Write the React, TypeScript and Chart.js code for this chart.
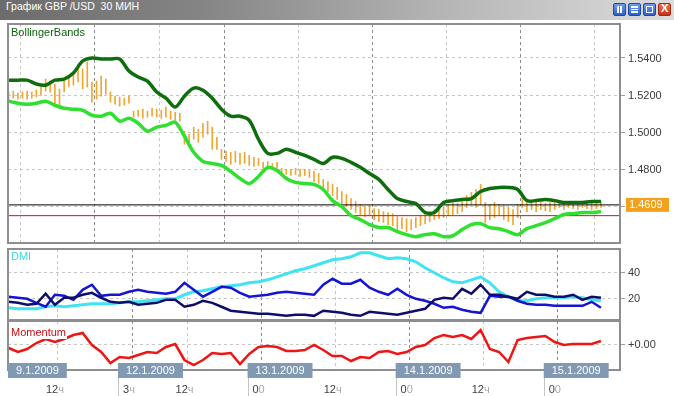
import React, { useEffect, useRef } from 'react';
import { Chart, registerables } from 'chart.js';

Chart.register(...registerables);

const FONT = 'Tahoma, "Liberation Sans", Arial, sans-serif';
const W = 674;

// time axis: hours since 9.1.2009 12:00 (weekend gap removed)
const X_MIN = -8.1;
const X_MAX = 91.09;
const GRID_HOURS = [0, 12, 21, 33, 45, 57, 69, 81];
const DAY_START_HOURS = [12, 33, 57, 81];
const TIME_MAIN = ['12', '3', '12', '0', '12', '0', '12', '0'];
const TIME_SUFFIX = ['ч', 'ч', 'ч', '0', 'ч', '0', 'ч', '0'];
const DATE_HOURS = [X_MIN, 12, 33, 57, 81];
const DATE_LABELS = ['9.1.2009', '12.1.2009', '13.1.2009', '14.1.2009', '15.1.2009'];

// price bars (high/low), one every 45 minutes starting at hour -8
const BAR_START = -8;
const BAR_STEP = 0.75;
const BAR_LOW = [
  1.5178, 1.5183, 1.5178, 1.5183, 1.5178, 1.5183, 1.5189, 1.5199, 1.5221, 1.5216,
  1.5151, 1.5140, 1.5216, 1.5243, 1.5253, 1.5270, 1.5232, 1.5243, 1.5162, 1.5178,
  1.5194, 1.5205, 1.5162, 1.5151, 1.5140, 1.5145, 1.5156, 1.5081, 1.5086, 1.5075,
  1.5081, 1.5086, 1.5081, 1.5075, 1.5081, 1.5070, 1.5064, 1.5059, 1.4935, 1.4924,
  1.4962, 1.4946, 1.4973, 1.4989, 1.4908, 1.4908, 1.4854, 1.4843, 1.4827, 1.4838,
  1.4827, 1.4832, 1.4821, 1.4816, 1.4821, 1.4805, 1.4811, 1.4800, 1.4805, 1.4767,
  1.4773, 1.4767, 1.4773, 1.4762, 1.4767, 1.4757, 1.4735, 1.4724, 1.4692, 1.4681,
  1.4659, 1.4638, 1.4611, 1.4600, 1.4584, 1.4568, 1.4557, 1.4546, 1.4551, 1.4530,
  1.4519, 1.4514, 1.4503, 1.4497, 1.4476, 1.4481, 1.4465, 1.4476, 1.4487, 1.4497,
  1.4508, 1.4519, 1.4530, 1.4535, 1.4541, 1.4551, 1.4557, 1.4562, 1.4573, 1.4595,
  1.4611, 1.4595, 1.4611, 1.4514, 1.4530, 1.4541, 1.4557, 1.4530, 1.4519, 1.4503,
  1.4541, 1.4595, 1.4573, 1.4584, 1.4573, 1.4584, 1.4578, 1.4573, 1.4584, 1.4595,
  1.4584, 1.4595, 1.4589, 1.4584, 1.4595, 1.4589, 1.4584, 1.4589, 1.4595,
];
const BAR_HIGH = [
  1.5216, 1.5221, 1.5210, 1.5216, 1.5221, 1.5216, 1.5226, 1.5243, 1.5286, 1.5270,
  1.5259, 1.5232, 1.5275, 1.5302, 1.5313, 1.5367, 1.5340, 1.5378, 1.5270, 1.5275,
  1.5302, 1.5286, 1.5216, 1.5194, 1.5189, 1.5183, 1.5194, 1.5113, 1.5118, 1.5124,
  1.5113, 1.5129, 1.5124, 1.5118, 1.5135, 1.5113, 1.5108, 1.5102, 1.5005, 1.4989,
  1.5027, 1.5016, 1.5048, 1.5059, 1.5027, 1.4973, 1.4908, 1.4897, 1.4892, 1.4897,
  1.4886, 1.4892, 1.4875, 1.4865, 1.4859, 1.4838, 1.4843, 1.4832, 1.4838, 1.4805,
  1.4800, 1.4800, 1.4805, 1.4800, 1.4800, 1.4794, 1.4789, 1.4778, 1.4746, 1.4735,
  1.4719, 1.4703, 1.4681, 1.4665, 1.4643, 1.4627, 1.4611, 1.4600, 1.4605, 1.4589,
  1.4584, 1.4573, 1.4568, 1.4562, 1.4546, 1.4541, 1.4535, 1.4530, 1.4541, 1.4551,
  1.4562, 1.4573, 1.4584, 1.4595, 1.4600, 1.4611, 1.4622, 1.4616, 1.4627, 1.4659,
  1.4676, 1.4692, 1.4719, 1.4622, 1.4611, 1.4622, 1.4611, 1.4605, 1.4595, 1.4584,
  1.4611, 1.4654, 1.4638, 1.4622, 1.4627, 1.4622, 1.4616, 1.4622, 1.4622, 1.4627,
  1.4627, 1.4622, 1.4627, 1.4622, 1.4627, 1.4622, 1.4627, 1.4622, 1.4627,
];

// indicators, one value every 1.5 hours starting at hour -8
const IND_START = -8;
const IND_STEP = 1.5;
const BB_UPPER = [
  1.5280, 1.5280, 1.5280, 1.5259, 1.5253, 1.5280, 1.5286, 1.5318, 1.5383, 1.5399,
  1.5394, 1.5394, 1.5394, 1.5329, 1.5297, 1.5275, 1.5216, 1.5183, 1.5135, 1.5194,
  1.5237, 1.5226, 1.5183, 1.5124, 1.5086, 1.5086, 1.5064, 1.4962, 1.4886, 1.4886,
  1.4908, 1.4892, 1.4875, 1.4854, 1.4832, 1.4865, 1.4859, 1.4838, 1.4811, 1.4778,
  1.4746, 1.4692, 1.4643, 1.4627, 1.4616, 1.4568, 1.4568, 1.4622, 1.4632, 1.4638,
  1.4643, 1.4681, 1.4697, 1.4703, 1.4703, 1.4692, 1.4632, 1.4632, 1.4638, 1.4632,
  1.4622, 1.4622, 1.4622, 1.4627, 1.4627,
];
const BB_LOWER = [
  1.5167, 1.5156, 1.5151, 1.5156, 1.5167, 1.5145, 1.5129, 1.5124, 1.5118, 1.5091,
  1.5086, 1.5102, 1.5059, 1.5075, 1.5048, 1.5005, 1.5027, 1.5037, 1.5054, 1.4978,
  1.4892, 1.4843, 1.4832, 1.4821, 1.4789, 1.4751, 1.4724, 1.4762, 1.4811, 1.4794,
  1.4751, 1.4730, 1.4724, 1.4719, 1.4692, 1.4632, 1.4600, 1.4551, 1.4530, 1.4503,
  1.4487, 1.4487, 1.4465, 1.4449, 1.4438, 1.4449, 1.4454, 1.4438, 1.4443, 1.4476,
  1.4503, 1.4508, 1.4487, 1.4481, 1.4465, 1.4449, 1.4481, 1.4497, 1.4514, 1.4535,
  1.4557, 1.4562, 1.4568, 1.4568, 1.4573,
];
const LAST_PRICE = 1.4609;
const RED_LEVEL = 1.4551;
const PRICE_TICKS = [1.46, 1.48, 1.5, 1.52, 1.54];

const DMI_ADX = [
  12.7, 11.9, 11.9, 11.9, 13.5, 14.2, 13.5, 14.2, 15.0, 15.8,
  15.8, 15.8, 16.5, 17.3, 17.3, 18.1, 18.8, 19.6, 19.6, 22.7,
  25.0, 25.8, 27.3, 28.8, 29.6, 30.4, 31.9, 32.7, 34.2, 36.5,
  38.8, 41.2, 42.7, 45.0, 47.3, 49.6, 50.4, 51.9, 55.0, 55.0,
  52.7, 50.4, 51.2, 50.4, 48.1, 43.5, 39.6, 35.8, 32.7, 31.9,
  34.2, 36.5, 31.9, 25.0, 21.2, 18.1, 18.1, 19.6, 20.4, 20.4,
  20.4, 21.2, 20.4, 18.8, 18.1,
];
const DMI_PLUS = [
  21.2, 20.4, 19.6, 16.5, 13.5, 22.7, 21.9, 18.8, 26.5, 30.4,
  21.9, 22.7, 22.7, 25.0, 26.5, 25.0, 24.2, 23.5, 25.0, 31.9,
  26.5, 21.2, 25.0, 28.8, 28.1, 24.2, 21.2, 21.9, 22.7, 24.2,
  25.0, 24.2, 23.5, 22.7, 30.4, 35.0, 31.2, 31.2, 34.2, 28.1,
  25.0, 22.7, 27.3, 22.7, 19.6, 18.1, 15.8, 12.7, 13.5, 11.2,
  9.6, 8.8, 21.9, 21.2, 21.2, 18.1, 15.8, 15.0, 15.0, 14.2,
  14.2, 14.2, 14.2, 17.3, 12.7,
];
const DMI_MINUS = [
  17.3, 16.5, 15.0, 15.8, 23.5, 15.0, 20.4, 20.4, 22.7, 24.2,
  20.4, 17.3, 16.5, 17.3, 15.0, 15.8, 16.5, 18.8, 18.8, 13.5,
  15.0, 18.1, 16.5, 13.5, 10.4, 9.6, 8.8, 8.1, 8.1, 7.3,
  6.5, 7.3, 7.3, 6.5, 10.4, 9.6, 8.8, 7.3, 6.5, 9.6,
  8.8, 8.1, 7.3, 8.8, 10.4, 11.9, 18.8, 20.4, 19.6, 27.3,
  23.5, 30.4, 22.7, 22.7, 21.2, 19.6, 25.0, 22.7, 22.7, 21.2,
  21.2, 22.7, 18.8, 21.2, 20.4,
];
const DMI_TICKS = [20, 40];

const MOMENTUM = [
  -0.0016, -0.0032, -0.0020, 0.0004, 0.0020, 0.0008, 0.0020, 0.0036, 0.0044, -0.0004,
  -0.0032, -0.0076, -0.0052, -0.0056, -0.0044, -0.0032, -0.0036, -0.0012, 0.0000, -0.0064,
  -0.0084, -0.0064, -0.0036, -0.0040, -0.0036, -0.0080, -0.0040, -0.0012, -0.0008, -0.0012,
  -0.0028, -0.0028, -0.0024, -0.0004, -0.0024, -0.0048, -0.0048, -0.0068, -0.0052, -0.0056,
  -0.0032, -0.0028, -0.0040, -0.0032, -0.0012, -0.0004, 0.0024, 0.0036, 0.0028, 0.0036,
  0.0020, 0.0056, -0.0020, -0.0032, -0.0072, 0.0016, 0.0024, 0.0028, 0.0032, 0.0008,
  -0.0004, 0.0000, 0.0000, 0.0000, 0.0012,
];
const MOM_TICKS = [0];

const indPoints = (arr: number[]) => arr.map((y, i) => ({ x: IND_START + i * IND_STEP, y }));

function xScale() {
  return {
    type: 'linear',
    min: X_MIN,
    max: X_MAX,
    offset: false,
    afterBuildTicks: (s: any) => { s.ticks = GRID_HOURS.map((v) => ({ value: v })); },
    afterFit: (s: any) => { s.height = 0; s.paddingLeft = 0; s.paddingRight = 0; },
    ticks: { display: false },
    grid: {
      drawTicks: false,
      lineWidth: 1,
      color: (c: any) => (c.tick && DAY_START_HOURS.includes(c.tick.value) ? '#8a8a8a' : '#c6c6c6'),
    },
    border: { display: false, dash: [3, 3] },
  };
}

function yScale(min: number, max: number, ticks: number[], fmt: (v: number) => string) {
  return {
    type: 'linear',
    position: 'right',
    min,
    max,
    afterBuildTicks: (s: any) => { s.ticks = ticks.map((v) => ({ value: v })); },
    afterFit: (s: any) => { s.width = 54; s.paddingTop = 0; s.paddingBottom = 0; },
    ticks: {
      callback: (v: any) => fmt(Number(v)),
      color: '#3a3a3a',
      font: { family: FONT, size: 11 },
      padding: 3,
      autoSkip: false,
      labelOffset: 1,
    },
    grid: { color: '#c6c6c6', tickColor: '#a0a0a0', tickLength: 5, drawTicks: true },
    border: { display: false, dash: [3, 3] },
  };
}

function frame(chart: any, label: string, color: string, dy: number, bg: boolean) {
  const { ctx, chartArea: a } = chart;
  ctx.save();
  ctx.strokeStyle = '#8e8e8e';
  ctx.lineWidth = 2;
  ctx.strokeRect(a.left, a.top, a.right - a.left, a.bottom - a.top);
  ctx.font = `11px ${FONT}`;
  ctx.textBaseline = 'middle';
  ctx.textAlign = 'left';
  if (bg) {
    const w = ctx.measureText(label).width;
    ctx.fillStyle = '#ffffff';
    ctx.fillRect(a.left + 2, a.top + dy - 6, w + 2, 12);
  }
  ctx.fillStyle = color;
  ctx.fillText(label, a.left + 3, a.top + dy);
  ctx.restore();
}

const baseOptions = (padding: any, scales: any) => ({
  responsive: false,
  animation: false,
  events: [],
  layout: { padding, autoPadding: false },
  plugins: { legend: { display: false }, tooltip: { enabled: false } },
  scales,
});

export default function App() {
  const mainRef = useRef<HTMLCanvasElement>(null);
  const dmiRef = useRef<HTMLCanvasElement>(null);
  const momRef = useRef<HTMLCanvasElement>(null);

  useEffect(() => {
    const mainPlugin = {
      id: 'mainFrame',
      afterDraw(chart: any) {
        frame(chart, 'BollingerBands', '#0b640b', 9, false);
        const { ctx } = chart;
        const y = chart.scales.y.getPixelForValue(LAST_PRICE);
        ctx.save();
        ctx.fillStyle = '#f2a11e';
        ctx.fillRect(626, y - 7, 43, 14);
        ctx.fillStyle = '#ffffff';
        ctx.font = `11px ${FONT}`;
        ctx.textBaseline = 'middle';
        ctx.textAlign = 'left';
        ctx.fillText(LAST_PRICE.toFixed(4), 629, y + 0.5);
        ctx.restore();
      },
    };
    const main = new Chart(mainRef.current as any, {
      type: 'line',
      data: {
        datasets: [
          { type: 'line', data: indPoints(BB_UPPER), borderColor: '#0e6e0e', borderWidth: 3.5, pointRadius: 0, tension: 0.3, order: 1 },
          { type: 'line', data: indPoints(BB_LOWER), borderColor: '#2fe02f', borderWidth: 3.5, pointRadius: 0, tension: 0.3, order: 2 },
          { type: 'line', data: [{ x: X_MIN, y: LAST_PRICE }, { x: X_MAX, y: LAST_PRICE }], borderColor: '#000000', borderWidth: 1, pointRadius: 0, order: 3 },
          { type: 'line', data: [{ x: X_MIN, y: RED_LEVEL }, { x: X_MAX, y: RED_LEVEL }], borderColor: '#c8141e', borderWidth: 1, pointRadius: 0, order: 4 },
          {
            type: 'bar',
            data: BAR_LOW.map((l, i) => ({ x: BAR_START + i * BAR_STEP, y: [l, BAR_HIGH[i]] })),
            backgroundColor: '#f0a632',
            barThickness: 1,
            order: 5,
          },
        ],
      } as any,
      options: baseOptions({ top: 4, bottom: 5, left: 8, right: 0 }, {
        x: xScale(),
        y: yScale(1.4404, 1.5582, PRICE_TICKS, (v) => v.toFixed(4)),
      }) as any,
      plugins: [mainPlugin],
    });

    const dmiPlugin = {
      id: 'dmiFrame',
      afterDraw(chart: any) { frame(chart, 'DMI', '#3ad8e6', 7.5, false); },
    };
    const dmi = new Chart(dmiRef.current as any, {
      type: 'line',
      data: {
        datasets: [
          { data: indPoints(DMI_ADX), borderColor: '#3ee4f2', borderWidth: 3, pointRadius: 0, tension: 0, order: 3 },
          { data: indPoints(DMI_PLUS), borderColor: '#1414d2', borderWidth: 2.5, pointRadius: 0, tension: 0, order: 2 },
          { data: indPoints(DMI_MINUS), borderColor: '#0e0e6a', borderWidth: 2.5, pointRadius: 0, tension: 0, order: 1 },
        ],
      } as any,
      options: baseOptions({ top: 3, bottom: 2, left: 8, right: 0 }, {
        x: xScale(),
        y: yScale(3.3, 57.9, DMI_TICKS, (v) => String(Math.round(v))),
      }) as any,
      plugins: [dmiPlugin],
    });

    const momPlugin = {
      id: 'momFrame',
      afterDraw(chart: any) {
        frame(chart, 'Momentum', '#c80f0f', 12, true);
        const { ctx, chartArea: a } = chart;
        const xs = chart.scales.x;
        ctx.save();
        ctx.font = `11px ${FONT}`;
        ctx.textBaseline = 'middle';
        ctx.textAlign = 'left';
        GRID_HOURS.forEach((h, i) => {
          const cx = xs.getPixelForValue(h) - 3;
          const m = TIME_MAIN[i];
          const s = TIME_SUFFIX[i];
          const wm = ctx.measureText(m).width;
          const ws = ctx.measureText(s).width;
          const x0 = cx - (wm + ws) / 2;
          ctx.fillStyle = '#404040';
          ctx.fillText(m, x0, 71);
          ctx.fillStyle = '#a8a8a8';
          ctx.fillText(s, x0 + wm, 71);
        });
        DATE_LABELS.forEach((lab, i) => {
          const left = i === 0 ? a.left : xs.getPixelForValue(DATE_HOURS[i]) - 14;
          const w = ctx.measureText(lab).width + 16;
          if (i > 0) {
            ctx.strokeStyle = '#c4c4c4';
            ctx.lineWidth = 1;
            ctx.beginPath();
            ctx.moveTo(Math.round(left) + 0.5, 59);
            ctx.lineTo(Math.round(left) + 0.5, 77);
            ctx.stroke();
          }
          ctx.fillStyle = '#8199b2';
          ctx.fillRect(left, 44, w, 15);
          ctx.fillStyle = '#ffffff';
          ctx.fillText(lab, left + 8, 52);
        });
        ctx.restore();
      },
    };
    const mom = new Chart(momRef.current as any, {
      type: 'line',
      data: {
        datasets: [
          { data: indPoints(MOMENTUM), borderColor: '#ee1515', borderWidth: 2.5, pointRadius: 0, tension: 0 },
        ],
      } as any,
      options: baseOptions({ top: 2, bottom: 26, left: 8, right: 0 }, {
        x: xScale(),
        y: yScale(-0.0104, 0.0092, MOM_TICKS, (v) => (v >= 0 ? '+' : '') + v.toFixed(2)),
      }) as any,
      plugins: [momPlugin],
    });

    return () => {
      main.destroy();
      dmi.destroy();
      mom.destroy();
    };
  }, []);

  const btn = (left: number, red: boolean, child: any) => (
    <div
      style={{
        position: 'absolute', left, top: 3, width: 13, height: 13, boxSizing: 'border-box',
        background: red ? 'linear-gradient(#f07050,#c8321a)' : 'linear-gradient(#6c9cf0,#2f62cc)',
        border: red ? '1px solid #9a2a12' : '1px solid #1f4aa0', borderRadius: 2,
      }}
    >
      {child}
    </div>
  );
  const bar = (l: number, t: number, w: number, h: number) => (
    <div style={{ position: 'absolute', left: l, top: t, width: w, height: h, background: '#fff' }} />
  );

  return (
    <div style={{ position: 'fixed', left: 0, top: 0, width: W, height: 396, background: '#fff', overflow: 'hidden' }}>
      <div
        style={{
          position: 'absolute', left: 0, top: 0, width: W, height: 20,
          background: 'linear-gradient(to right,#6c6c6c 0%,#858585 30%,#b4b4b4 65%,#dcdcdc 100%)',
        }}
      >
        <span style={{ position: 'absolute', left: 6, top: 0, lineHeight: '20px', color: '#fff', font: `10.5px ${FONT}`, whiteSpace: 'pre' }}>
          {'График GBP /USD  30 МИН'}
        </span>
        {btn(613, false, <>{bar(3, 2, 2, 7)}{bar(6, 2, 2, 7)}</>)}
        {btn(628, false, <>{bar(2, 2, 7, 2)}{bar(2, 5, 7, 1)}{bar(2, 7, 7, 2)}</>)}
        {btn(643, false, <div style={{ position: 'absolute', left: 2, top: 2, width: 5, height: 5, border: '1px solid #fff' }} />)}
        {btn(658, true, <span style={{ position: 'absolute', left: 2, top: -2, color: '#fff', font: `bold 11px ${FONT}` }}>X</span>)}
      </div>
      <canvas ref={mainRef} width={W} height={228} style={{ position: 'absolute', left: 0, top: 20, width: W, height: 228 }} />
      <canvas ref={dmiRef} width={W} height={76} style={{ position: 'absolute', left: 0, top: 246, width: W, height: 76 }} />
      <canvas ref={momRef} width={W} height={77} style={{ position: 'absolute', left: 0, top: 319, width: W, height: 77 }} />
    </div>
  );
}
